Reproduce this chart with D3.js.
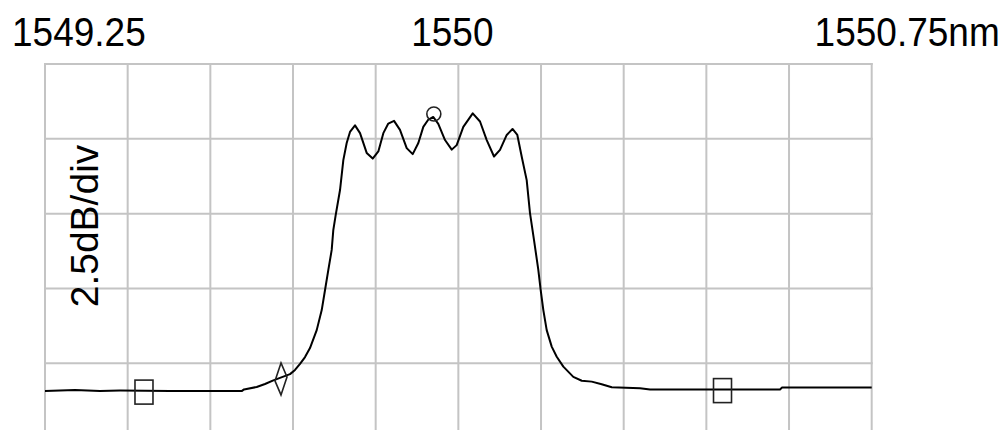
<!DOCTYPE html>
<html>
<head>
<meta charset="utf-8">
<script src="https://cdn.jsdelivr.net/npm/d3@7/dist/d3.min.js"></script>
<style>
  html, body { margin: 0; padding: 0; background: #fff; }
  svg { display: block; }
  text { font-family: "Liberation Sans", Arial, sans-serif; fill: #000; }
</style>
</head>
<body>
<svg id="chart" width="1006" height="430"></svg>
<script>
// Wavelength span (nm) and level span (dB, relative to top graticule line)
const wlStart = 1549.25, wlEnd = 1550.75;
const levelTop = 0, levelBottom = -12.5;        // 5 divisions at 2.5 dB/div
const xDivisions = 10, yDivisions = 5;

// Axis annotations
const topLabels = ["1549.25", "1550", "1550.75nm"];
const topLabelValues = [1549.25, 1550, 1550.75];
const scaleLabel = "2.5dB/div";

// Measured spectrum: wavelength (nm)
const wavelengths = [
  1549.2500, 1549.3044, 1549.3498, 1549.3861, 1549.4768, 1549.5312, 1549.6075, 1549.6111,
  1549.6341, 1549.6492, 1549.6643, 1549.6800, 1549.6946, 1549.7036, 1549.7127, 1549.7218,
  1549.7308, 1549.7430, 1549.7521, 1549.7581, 1549.7641, 1549.7702, 1549.7731, 1549.7775,
  1549.7853, 1549.7913, 1549.7974, 1549.8034, 1549.8125, 1549.8216, 1549.8337, 1549.8446,
  1549.8548, 1549.8639, 1549.8729, 1549.8833, 1549.8941, 1549.9063, 1549.9172, 1549.9274,
  1549.9364, 1549.9450, 1549.9546, 1549.9636, 1549.9758, 1549.9880, 1549.9970, 1550.0090,
  1550.0261, 1550.0393, 1550.0515, 1550.0647, 1550.0756, 1550.0878, 1550.0983, 1550.1070,
  1550.1150, 1550.1240, 1550.1300, 1550.1373, 1550.1451, 1550.1494, 1550.1542, 1550.1603,
  1550.1694, 1550.1785, 1550.1905, 1550.2086, 1550.2239, 1550.2420, 1550.2601, 1550.2783,
  1550.3296, 1550.3478, 1550.5837, 1550.5873, 1550.7500
];
// Measured spectrum: relative level (dB)
const levels = [
  -10.92, -10.89, -10.92, -10.91, -10.92, -10.92, -10.92, -10.87,
  -10.79, -10.69, -10.57, -10.46, -10.36, -10.22, -10.02, -9.79,
  -9.49, -8.89, -8.22, -7.55, -6.88, -6.21, -5.55, -5.04,
  -4.21, -3.21, -2.64, -2.27, -2.05, -2.31, -2.97, -3.16,
  -2.92, -2.31, -1.99, -1.90, -2.20, -2.81, -3.01, -2.64,
  -2.10, -1.87, -1.77, -2.00, -2.54, -2.86, -2.71, -2.10,
  -1.65, -1.92, -2.54, -3.09, -2.87, -2.37, -2.17, -2.37,
  -3.10, -3.88, -4.98, -5.88, -6.88, -7.55, -8.22, -8.89,
  -9.44, -9.78, -10.11, -10.45, -10.58, -10.61, -10.70, -10.80,
  -10.83, -10.87, -10.87, -10.81, -10.81
];

// Markers placed on the trace
const markerTypes = ["square", "diamond", "circle", "square"];
const markerWavelengths = [1549.4296, 1549.6782, 1549.9555, 1550.4793];
const markerLevels = [-10.96, -10.52, -1.67, -10.91];

const svg = d3.select("#chart");
const plot = { left: 45, right: 871.7, top: 64, bottom: 438.2 };

const x = d3.scaleLinear().domain([wlStart, wlEnd]).range([plot.left, plot.right]);
const y = d3.scaleLinear().domain([levelTop, levelBottom]).range([plot.top, plot.bottom]);

// Graticule
const grid = svg.append("g").attr("stroke", "#c4c4c4").attr("stroke-width", 2);
const xTicks = d3.range(xDivisions + 1).map(i => wlStart + i * (wlEnd - wlStart) / xDivisions);
const yTicks = d3.range(yDivisions + 1).map(i => levelTop + i * (levelBottom - levelTop) / yDivisions);

grid.selectAll("line.v").data(xTicks).join("line")
  .attr("class", "v")
  .attr("x1", d => x(d)).attr("x2", d => x(d))
  .attr("y1", y(levelTop) - 1).attr("y2", y(levelBottom));
grid.selectAll("line.h").data(yTicks).join("line")
  .attr("class", "h")
  .attr("x1", x(wlStart) - 1).attr("x2", x(wlEnd) + 1)
  .attr("y1", d => y(d)).attr("y2", d => y(d));

// Wavelength labels across the top
const anchors = ["start", "middle", "end"];
const labelShift = [-33, -6, 128];
topLabels.forEach((t, i) => {
  const px = x(topLabelValues[i]) + labelShift[i];
  svg.append("text")
    .attr("transform", `translate(${px},46) scale(0.925,1)`)
    .attr("text-anchor", anchors[i])
    .attr("font-size", 40)
    .text(t);
});

// Vertical scale annotation
svg.append("text")
  .attr("transform", `translate(98,226) rotate(-90)`)
  .attr("text-anchor", "middle")
  .attr("font-size", 39)
  .text(scaleLabel);

// Trace
const trace = wavelengths.map((w, i) => [w, levels[i]]);
const line = d3.line().x(d => x(d[0])).y(d => y(d[1]));
svg.append("path")
  .datum(trace)
  .attr("fill", "none")
  .attr("stroke", "#000")
  .attr("stroke-width", 2)
  .attr("stroke-linejoin", "round")
  .attr("d", line);

// Markers
const mk = svg.append("g").attr("fill", "none").attr("stroke", "#222").attr("stroke-width", 1.6);
markerTypes.forEach((type, i) => {
  const cx = x(markerWavelengths[i]);
  const cy = y(markerLevels[i]);
  if (type === "square") {
    mk.append("rect").attr("x", cx - 9).attr("y", cy - 12).attr("width", 18).attr("height", 24);
  } else if (type === "circle") {
    mk.append("circle").attr("cx", cx).attr("cy", cy).attr("r", 7);
  } else if (type === "diamond") {
    const pts = [[0, -16], [6, -2], [0, 16], [-6, 2]].map(p => [cx + p[0], cy + p[1]]);
    mk.append("path").attr("d", d3.line()(pts) + "Z");
  }
});
</script>
</body>
</html>
